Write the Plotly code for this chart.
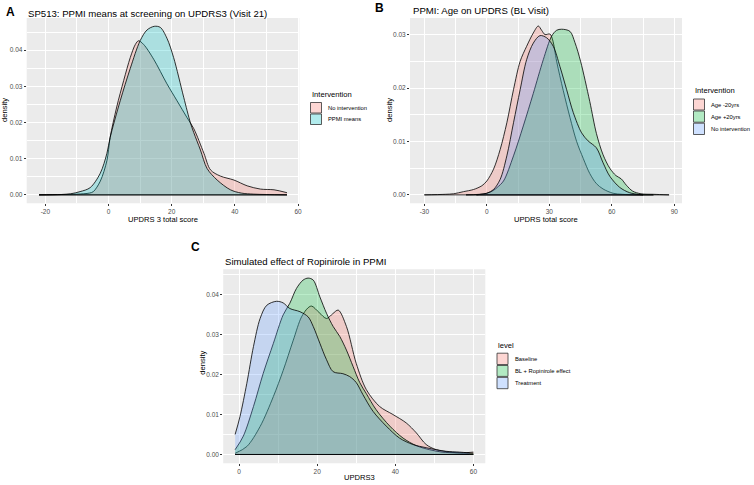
import plotly.graph_objects as go

W, H = 754, 485
FONT = "Liberation Sans, Arial, sans-serif"

# ---------------- data ----------------
# Panel A
a_no_x = [-22, -15, -10, -6, -4.8, -2.6, -0.5, 0.5, 2.6, 4.8, 6.9, 8.5, 9.5, 11.1, 14.3, 18.5, 21.7, 24.9, 27, 30.2, 32.3, 35.4, 39.7, 43.9, 48.1, 52.4, 56.5]
a_no_y = [0, 0.0001, 0.0002, 0.0005, 0.0009, 0.0038, 0.0095, 0.0158, 0.0243, 0.0316, 0.038, 0.0416, 0.0426, 0.0416, 0.0375, 0.0307, 0.026, 0.0213, 0.0183, 0.0115, 0.0069, 0.0052, 0.0041, 0.0025, 0.0016, 0.0014, 0.0006]
a_ppmi_x = [-22, -15, -12, -9, -5.8, -2.6, -0.5, 0.5, 3.7, 6.9, 10, 12.2, 14.5, 16.4, 18.5, 20.6, 23.8, 25.9, 27, 29.1, 31.2, 34.4, 38.6, 42, 46, 50, 56.5]
a_ppmi_y = [0, 0.0001, 0.0003, 0.0009, 0.002, 0.006, 0.0115, 0.0158, 0.026, 0.035, 0.0426, 0.0456, 0.0466, 0.0463, 0.0433, 0.038, 0.027, 0.020, 0.0172, 0.0124, 0.0073, 0.0041, 0.0014, 0.0005, 0.0002, 0.0001, 0]
a_names = ["No intervention", "PPMI means"]
a_xticks = [-20, 0, 20, 40, 60]
a_xticklabels = ["-20", "0", "20", "40", "60"]
a_yticks = [0, 0.01, 0.02, 0.03, 0.04]
a_yticklabels = ["0.00", "0.01", "0.02", "0.03", "0.04"]

# Panel B
b_m20_x = [-30, -20, -16, -11.2, -6.4, -2.4, 0, 3.2, 6.4, 9.6, 12.8, 16, 19.1, 22.3, 24.7, 26.3, 27.9, 30.3, 31.6, 33.5, 36.7, 39.9, 43.1, 46.3, 49.4, 52.6, 55.8, 60.6, 65, 72, 80]
b_m20_y = [0, 0.0001, 0.0002, 0.0006, 0.001, 0.0017, 0.0026, 0.0048, 0.0085, 0.0135, 0.0197, 0.025, 0.0278, 0.0303, 0.0316, 0.0308, 0.030, 0.0301, 0.029, 0.025, 0.0195, 0.0145, 0.0100, 0.0068, 0.0040, 0.0021, 0.0011, 0.0003, 0.0001, 0, 0]
b_p20_x = [-5, 0, 3, 5, 8, 12.8, 17.5, 22.3, 27.1, 31.1, 33.5, 35.9, 39.9, 42.3, 45, 49.4, 52.6, 55.8, 59, 62, 64.5, 67, 70, 74, 80, 87.5]
b_p20_y = [0, 0.0003, 0.0008, 0.0014, 0.0026, 0.0073, 0.0129, 0.019, 0.0253, 0.0297, 0.0308, 0.031, 0.0306, 0.0285, 0.025, 0.0175, 0.0115, 0.0075, 0.005, 0.0036, 0.003, 0.0018, 0.0007, 0.0002, 0.0001, 0]
b_no_x = [-10, 0, 3.2, 6.4, 9.6, 12.8, 16, 19.1, 22.3, 25.5, 28.7, 31.9, 35.1, 38.3, 41.5, 45.5, 48.6, 52.6, 55.8, 59, 63.8, 68.6, 75]
b_no_y = [0, 0.0003, 0.001, 0.0029, 0.0073, 0.0135, 0.0197, 0.0253, 0.0284, 0.0298, 0.0294, 0.0278, 0.024, 0.0197, 0.0154, 0.0116, 0.0101, 0.0088, 0.006, 0.0035, 0.0014, 0.0004, 0]
b_names = ["Age -20yrs", "Age +20yrs", "No intervention"]
b_xticks = [-30, 0, 30, 60, 90]
b_xticklabels = ["-30", "0", "30", "60", "90"]
b_yticks = [0, 0.01, 0.02, 0.03]
b_yticklabels = ["0.00", "0.01", "0.02", "0.03"]

# Panel C
c_base_x = [-1, 2, 5.4, 8.8, 11.3, 13.9, 16, 17.7, 18.6, 20.5, 22.4, 24, 25.4, 27.5, 30, 32.6, 36, 39.4, 42.8, 45.4, 47.9, 50.5, 54, 57, 60]
c_base_y = [0.0003, 0.002, 0.007, 0.0145, 0.021, 0.0286, 0.0344, 0.0367, 0.0371, 0.0355, 0.034, 0.0352, 0.0361, 0.032, 0.0228, 0.0162, 0.012, 0.010, 0.0079, 0.0054, 0.0025, 0.0012, 0.0006, 0.0004, 0.0006]
c_ropi_x = [-1, 1.1, 3.7, 6.2, 8.8, 11.3, 13, 14.7, 16.4, 17.7, 19, 20.7, 22.4, 24.1, 25.8, 27.5, 29.2, 30.9, 32.6, 35.1, 38.6, 42, 45.4, 48.8, 52, 56, 60]
c_ropi_y = [0.0012, 0.0046, 0.012, 0.0203, 0.0278, 0.0349, 0.0378, 0.0415, 0.0436, 0.0441, 0.0436, 0.0394, 0.0353, 0.032, 0.0295, 0.0261, 0.022, 0.018, 0.0152, 0.0112, 0.0071, 0.0041, 0.0022, 0.0012, 0.0006, 0.0004, 0.0003]
c_treat_x = [-1, 0.25, 2, 3.7, 5.4, 7.1, 9.6, 11.3, 13, 15.6, 17.7, 19, 20.7, 22.4, 24.1, 26.6, 28.3, 30, 31.7, 34.3, 37.7, 41.1, 44.5, 47.9, 50.5, 53, 56.4, 59]
c_treat_y = [0.005, 0.0095, 0.0178, 0.027, 0.034, 0.0373, 0.0383, 0.0379, 0.0365, 0.0357, 0.0344, 0.032, 0.0278, 0.0237, 0.0207, 0.0202, 0.0195, 0.018, 0.015, 0.0108, 0.0071, 0.0041, 0.0025, 0.0017, 0.0012, 0.0008, 0.0006, 0.0004]
c_names = ["Baseline", "BL + Ropinirole effect", "Treatment"]
c_xticks = [0, 20, 40, 60]
c_xticklabels = ["0", "20", "40", "60"]
c_yticks = [0, 0.01, 0.02, 0.03, 0.04]
c_yticklabels = ["0.00", "0.01", "0.02", "0.03", "0.04"]

# ---------------- styling ----------------
ALPHA = 0.27
RED = (248, 118, 109)
TEAL = (0, 191, 196)
GREEN = (0, 186, 56)
BLUE = (97, 156, 255)


def rgba(c, a=ALPHA):
    return "rgba(%d,%d,%d,%.2f)" % (c[0], c[1], c[2], a)


def px(x):
    return x / W


def py(y):
    return 1 - y / H


fig = go.Figure()

panels = [
    dict(ax="", dx=[26.7, 299.3], dy=[18, 203.3], xr=[-25.9, 60.4], yr=[-0.00233, 0.0489],
         series=[(a_no_x, a_no_y, RED), (a_ppmi_x, a_ppmi_y, TEAL)],
         xt=(a_xticks, a_xticklabels), yt=(a_yticks, a_yticklabels),
         xminor=[-10, 10, 30, 50], yminor=[0.005, 0.015, 0.025, 0.035, 0.045]),
    dict(ax="2", dx=[410, 682], dy=[18, 203.3], xr=[-36.9, 93.7], yr=[-0.00158, 0.0331],
         series=[(b_m20_x, b_m20_y, RED), (b_p20_x, b_p20_y, GREEN), (b_no_x, b_no_y, BLUE)],
         xt=(b_xticks, b_xticklabels), yt=(b_yticks, b_yticklabels),
         xminor=[-15, 15, 45, 75], yminor=[0.005, 0.015, 0.025]),
    dict(ax="3", dx=[223.2, 485.3], dy=[269.3, 463.3], xr=[-4.05, 63.05], yr=[-0.0022, 0.0463],
         series=[(c_base_x, c_base_y, RED), (c_ropi_x, c_ropi_y, GREEN), (c_treat_x, c_treat_y, BLUE)],
         xt=(c_xticks, c_xticklabels), yt=(c_yticks, c_yticklabels),
         xminor=[10, 30, 50], yminor=[0.005, 0.015, 0.025, 0.035, 0.045]),
]

layout_axes = {}
for p in panels:
    xa = "x" + p["ax"]
    ya = "y" + p["ax"]
    for xs, ys, col in p["series"]:
        fig.add_trace(go.Scatter(
            x=xs, y=ys, xaxis=xa, yaxis=ya, mode="lines",
            line=dict(color="black", width=0.8, shape="spline", smoothing=0.9),
            fill="tozeroy", fillcolor=rgba(col), showlegend=False, hoverinfo="skip"))
        fig.add_trace(go.Scatter(
            x=[xs[0], xs[-1]], y=[0, 0], xaxis=xa, yaxis=ya, mode="lines",
            line=dict(color="black", width=0.8), showlegend=False, hoverinfo="skip"))
    common = dict(showgrid=True, gridcolor="white", gridwidth=1, zeroline=False,
                  showline=False, ticks="outside", ticklen=2, tickwidth=0.7,
                  tickcolor="#333333", tickfont=dict(size=6.5, color="#4D4D4D", family=FONT),
                  fixedrange=True, automargin=False)
    layout_axes["xaxis" + p["ax"]] = dict(
        domain=[px(p["dx"][0]), px(p["dx"][1])], range=p["xr"], anchor=ya,
        tickmode="array", tickvals=p["xt"][0], ticktext=p["xt"][1],
        minor=dict(tickmode="array", tickvals=p["xminor"], showgrid=True,
                   gridcolor="white", gridwidth=0.5, ticks=""), **common)
    layout_axes["yaxis" + p["ax"]] = dict(
        domain=[py(p["dy"][1]), py(p["dy"][0])], range=p["yr"], anchor=xa,
        tickmode="array", tickvals=p["yt"][0], ticktext=p["yt"][1],
        minor=dict(tickmode="array", tickvals=p["yminor"], showgrid=True,
                   gridcolor="white", gridwidth=0.5, ticks=""), **common)

fig.update_layout(template="none", **layout_axes)

# panel backgrounds
shapes = []
for p in panels:
    shapes.append(dict(type="rect", xref="paper", yref="paper", layer="below",
                       x0=px(p["dx"][0]), x1=px(p["dx"][1]),
                       y0=py(p["dy"][1]), y1=py(p["dy"][0]),
                       fillcolor="#EBEBEB", line=dict(width=0)))

annotations = []


def text(t, x, y, size, color="black", xanchor="left", bold=False, angle=0):
    annotations.append(dict(
        text=("<b>%s</b>" % t) if bold else t, x=px(x), y=py(y), xref="paper", yref="paper",
        xanchor=xanchor, yanchor="middle", showarrow=False, textangle=angle,
        font=dict(size=size, color=color, family=FONT)))


# panel letters and titles
text("A", 4, 12, 12, bold=True)
text("B", 373, 8, 12, bold=True)
text("C", 189, 246.5, 12, bold=True)
text("SP513: PPMI means at screening on UPDRS3 (Visit 21)", 26, 13, 9.6)
text("PPMI: Age on UPDRS (BL Visit)", 410.5, 10.7, 9.6)
text("Simulated effect of Ropinirole in PPMI", 222.5, 261.7, 9.6)

# axis titles
text("UPDRS 3 total score", 163, 220, 7.6, xanchor="center")
text("density", 5, 110, 7.6, xanchor="center", angle=-90)
text("UPDRS total score", 546, 219.3, 7.6, xanchor="center")
text("density", 390, 110, 7.6, xanchor="center", angle=-90)
text("UPDRS3", 359, 477.5, 7.6, xanchor="center")
text("density", 201.7, 363, 7.6, xanchor="center", angle=-90)


def legend(title, x, ytitle, ykeys, names, cols):
    text(title, x, ytitle, 7.6)
    for (y0, y1), n, c in zip(ykeys, names, cols):
        shapes.append(dict(type="rect", xref="paper", yref="paper",
                           x0=px(x + 0.5), x1=px(x + 11.5), y0=py(y1 - 0.5), y1=py(y0 + 0.5),
                           fillcolor=rgba(c, 0.3), line=dict(color="#333333", width=0.8)))
        text(n, x + 16, (y0 + y1) / 2, 5.8)


legend("Intervention", 310, 95, [(102, 113.5), (113.5, 125)], a_names, [RED, TEAL])
legend("Intervention", 693, 90.7, [(98.5, 110.5), (110.5, 122.7), (122.7, 135)], b_names, [RED, GREEN, BLUE])
legend("level", 496.5, 345, [(352.7, 365), (365, 376.9), (376.9, 389.2)], c_names, [RED, GREEN, BLUE])

fig.update_layout(width=W, height=H, margin=dict(l=0, r=0, t=0, b=0),
                  paper_bgcolor="white", plot_bgcolor="rgba(0,0,0,0)",
                  font=dict(family=FONT, color="black"),
                  shapes=shapes, annotations=annotations, showlegend=False)

fig.write_html("out.html", config={"displayModeBar": False},
               post_script="document.body.style.margin='0px';document.body.style.overflow='hidden';")
